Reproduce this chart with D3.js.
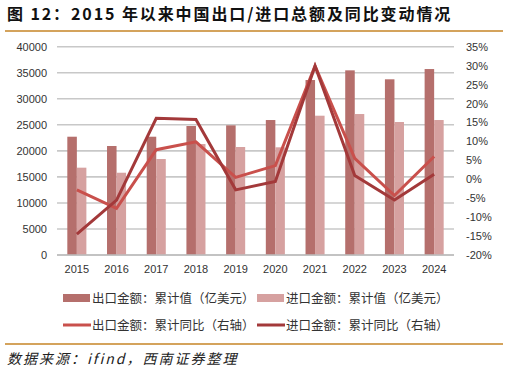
<!DOCTYPE html>
<html>
<head>
<meta charset="utf-8">
<script src="https://cdn.jsdelivr.net/npm/d3@7"></script>
<style>
  body { margin: 0; background: #fff; }
  svg { display: block; }
</style>
</head>
<body>
<svg id="chart" width="508" height="376"></svg>
<script>
// Data
const years = ["2015", "2016", "2017", "2018", "2019", "2020", "2021", "2022", "2023", "2024"];
const exportValue = [22715, 20930, 22715, 24770, 24900, 25920, 33600, 35460, 33740, 35710];
const importValue = [16770, 15800, 18430, 21310, 20740, 20680, 26750, 27070, 25540, 25920];
const exportYoY = [-2.8, -7.7, 7.8, 9.9, 0.5, 3.6, 29.9, 5.5, -4.3, 6.0];
const importYoY = [-14.5, -5.5, 16.1, 15.8, -2.8, -0.6, 29.9, 1.0, -5.5, 1.3];
const leftTicks = [0, 5000, 10000, 15000, 20000, 25000, 30000, 35000, 40000];
const rightTicks = [-20, -15, -10, -5, 0, 5, 10, 15, 20, 25, 30, 35];

const colors = {
    exportBar: "#b56f6c",
    importBar: "#d6a1a0",
    exportLine: "#c9504c",
    importLine: "#a3393a",
    rule: "#d4a35c",
    grid: "#c8c8c8"
};

const size = { left: 57, right: 454, top: 46.7, bottom: 255 };
const svg = d3.select("#chart");

// Title and top rule
svg.append("text")
    .attr("x", 7).attr("y", 20)
    .style("font-family", "'Noto Sans CJK SC', sans-serif")
    .style("font-size", "16px").style("font-weight", "bold")
    .style("letter-spacing", "1.9px")
    .attr("fill", "#111")
    .text("图 12：2015 年以来中国出口/进口总额及同比变动情况");

svg.append("line")
    .attr("x1", 5).attr("x2", 503).attr("y1", 31).attr("y2", 31)
    .attr("stroke", colors.rule).attr("stroke-width", 2);

// Scales
const x = d3.scaleBand().domain(years).range([size.left, size.right]).paddingInner(0.52).paddingOuter(0.26);
const xLine = d3.scaleBand().domain(years).range([size.left, size.right]);
const yLeft = d3.scaleLinear().domain([0, 40000]).range([size.bottom, size.top]);
const yRight = d3.scaleLinear().domain([-20, 35]).range([size.bottom, size.top]);

// Gridlines
svg.append("g")
    .selectAll("line")
    .data(leftTicks)
    .enter().append("line")
    .attr("x1", size.left).attr("x2", size.right)
    .attr("y1", d => yLeft(d)).attr("y2", d => yLeft(d))
    .attr("stroke", colors.grid).attr("stroke-width", 1.6);

// Left axis
const leftAxis = svg.append("g")
    .attr("transform", `translate(${size.left - 10},0)`)
    .call(d3.axisLeft(yLeft).tickValues(leftTicks).tickSize(0).tickPadding(0).tickFormat(d3.format("d")));
leftAxis.select(".domain").remove();

// Right axis
const rightAxis = svg.append("g")
    .attr("transform", `translate(${size.right + 12},0)`)
    .call(d3.axisRight(yRight).tickValues(rightTicks).tickSize(0).tickPadding(0).tickFormat(d => d + "%"));
rightAxis.select(".domain").remove();

// Bottom axis labels
const bottomAxis = svg.append("g")
    .attr("transform", `translate(0,${size.bottom + 6})`)
    .call(d3.axisBottom(xLine).tickSize(0).tickPadding(4));
bottomAxis.select(".domain").remove();

svg.selectAll(".tick text")
    .style("font-family", "'Liberation Sans', Arial, sans-serif")
    .style("font-size", "11px")
    .attr("fill", "#333");

// Bars
const inner = d3.scaleBand().domain(["exp", "imp"]).range([0, x.bandwidth()]);
const barGroups = svg.append("g")
    .selectAll("g")
    .data(years)
    .enter().append("g")
    .attr("transform", d => `translate(${x(d)},0)`);

barGroups.append("rect")
    .attr("x", inner("exp"))
    .attr("width", inner.bandwidth())
    .attr("y", (d, i) => yLeft(exportValue[i]))
    .attr("height", (d, i) => size.bottom - yLeft(exportValue[i]))
    .attr("fill", colors.exportBar);

barGroups.append("rect")
    .attr("x", inner("imp"))
    .attr("width", inner.bandwidth())
    .attr("y", (d, i) => yLeft(importValue[i]))
    .attr("height", (d, i) => size.bottom - yLeft(importValue[i]))
    .attr("fill", colors.importBar);

// Baseline
svg.append("line")
    .attr("x1", size.left).attr("x2", size.right)
    .attr("y1", size.bottom).attr("y2", size.bottom)
    .attr("stroke", "#bdbdbd").attr("stroke-width", 1.6);

// Lines
const line = d3.line()
    .x((d, i) => xLine(years[i]) + xLine.bandwidth() / 2)
    .y(d => yRight(d));

svg.append("path")
    .datum(exportYoY)
    .attr("d", line)
    .attr("fill", "none")
    .attr("stroke", colors.exportLine)
    .attr("stroke-width", 3);

svg.append("path")
    .datum(importYoY)
    .attr("d", line)
    .attr("fill", "none")
    .attr("stroke", colors.importLine)
    .attr("stroke-width", 3);

// Legend
const legendFont = "'Noto Sans CJK SC', sans-serif";
const legendItems = [
    { label: "出口金额：累计值（亿美元）", color: colors.exportBar, type: "bar", x: 63, y: 298 },
    { label: "进口金额：累计值（亿美元）", color: colors.importBar, type: "bar", x: 257, y: 298 },
    { label: "出口金额：累计同比（右轴）", color: colors.exportLine, type: "line", x: 63, y: 325 },
    { label: "进口金额：累计同比（右轴）", color: colors.importLine, type: "line", x: 257, y: 325 }
];

const legend = svg.append("g")
    .selectAll("g")
    .data(legendItems)
    .enter().append("g")
    .attr("transform", d => `translate(${d.x},${d.y})`);

legend.each(function(d) {
    const g = d3.select(this);
    if (d.type === "bar") {
        g.append("rect").attr("x", 0).attr("y", -4).attr("width", 27).attr("height", 8).attr("fill", d.color);
    } else {
        g.append("line").attr("x1", 0).attr("x2", 28).attr("y1", 0).attr("y2", 0)
            .attr("stroke", d.color).attr("stroke-width", 3);
    }
    g.append("text")
        .attr("x", 29).attr("y", 4.5)
        .style("font-family", legendFont)
        .style("font-size", "12.5px")
        .attr("fill", "#333")
        .text(d.label);
});

// Bottom rule and source
svg.append("line")
    .attr("x1", 5).attr("x2", 503).attr("y1", 344).attr("y2", 344)
    .attr("stroke", colors.rule).attr("stroke-width", 2);

svg.append("text")
    .attr("x", 7).attr("y", 364)
    .style("font-family", "'Noto Sans CJK SC', sans-serif")
    .style("font-size", "14px")
    .style("font-style", "italic")
    .style("letter-spacing", "2px")
    .attr("fill", "#222")
    .text("数据来源：ifind，西南证券整理");
</script>
</body>
</html>
